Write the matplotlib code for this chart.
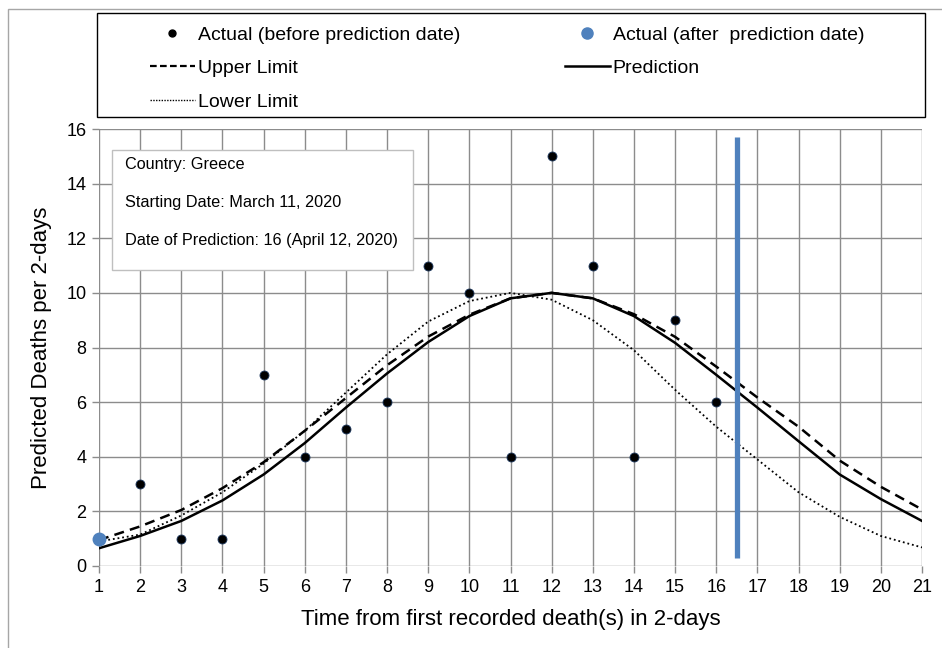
import matplotlib
matplotlib.use("Agg")
import matplotlib.pyplot as plt
from matplotlib.patches import Rectangle
from matplotlib.lines import Line2D

plt.rcParams['font.family'] = ['Liberation Sans', 'DejaVu Sans']

# Data
t = list(range(1, 22))
actual_before_x = [2, 3, 4, 5, 6, 7, 8, 9, 10, 11, 12, 13, 14, 15, 16]
actual_before_y = [3, 1, 1, 7, 4, 5, 6, 11, 10, 4, 15, 11, 4, 9, 6]
actual_after_x = [1]
actual_after_y = [1]
prediction = [0.65, 1.1, 1.65, 2.4, 3.35, 4.5, 5.8, 7.05, 8.2, 9.15, 9.8, 10.0,
              9.8, 9.15, 8.17, 7.0, 5.8, 4.57, 3.35, 2.45, 1.65]
upper = [0.95, 1.45, 2.05, 2.85, 3.8, 4.95, 6.15, 7.35, 8.4, 9.2, 9.8, 10.0,
         9.8, 9.22, 8.39, 7.3, 6.17, 5.1, 3.86, 2.9, 2.07]
lower = [0.9, 1.15, 1.85, 2.7, 3.75, 4.95, 6.35, 7.75, 8.95, 9.7, 10.0, 9.75,
         9.0, 7.9, 6.45, 5.1, 3.9, 2.7, 1.8, 1.1, 0.68]
pred_date = 16.5
vline_range = [0.3, 15.7]
xticks = list(range(1, 22))
yticks = list(range(0, 17, 2))
info_lines = ['Country: Greece', 'Starting Date: March 11, 2020',
              'Date of Prediction: 16 (April 12, 2020)']

W, H = 942, 648
fig = plt.figure(figsize=(W / 100, H / 100), dpi=100)


def fx(px):
    return px / W


def fy(py):
    return 1 - py / H


# outer border
fig.patches.append(Rectangle((fx(8), -0.01), 1.0, fy(9) + 0.01, transform=fig.transFigure,
                             fill=False, edgecolor='#a6a6a6', linewidth=1.0, zorder=0))
ax = fig.add_axes([fx(99), fy(566), fx(922) - fx(99), fy(129) - fy(566)])

gridc = '#8c8c8c'
ax.set_xlim(1, 21)
ax.set_ylim(0, 16)
ax.set_xticks(xticks)
ax.set_yticks(yticks)
ax.grid(True, color=gridc, linewidth=1.0)
ax.set_axisbelow(True)
for s in ax.spines.values():
    s.set_visible(False)
ax.tick_params(axis='both', colors=gridc, length=5, width=1.0, labelcolor='black',
               labelsize=13, pad=4)

ax.plot(t, prediction, color='black', linewidth=1.8, linestyle='-', zorder=3)
ax.plot(t, upper, color='black', linewidth=1.8, linestyle=(0, (4, 2.5)), zorder=3)
ax.plot(t, lower, color='black', linewidth=1.3, linestyle=(0, (1, 1.6)), zorder=3)
ax.plot([pred_date, pred_date], vline_range, color='#4f81bd', linewidth=3.8, zorder=4,
        solid_capstyle='butt')
ax.plot(actual_before_x, actual_before_y, linestyle='none', marker='o', markersize=6.5,
        markerfacecolor='black', markeredgecolor='#1f3a60', markeredgewidth=0.6, zorder=5,
        clip_on=False)
ax.plot(actual_after_x, actual_after_y, linestyle='none', marker='o', markersize=9,
        markerfacecolor='#4f81bd', markeredgecolor='#4f81bd', zorder=6, clip_on=False)

ax.set_xlabel('Time from first recorded death(s) in 2-days', fontsize=16, labelpad=10)
ax.set_ylabel('Predicted Deaths per 2-days', fontsize=16, labelpad=10)

# info box
fig.patches.append(Rectangle((fx(112), fy(270)), fx(413) - fx(112), fy(150) - fy(270),
                             transform=fig.transFigure, facecolor='white',
                             edgecolor='#bfbfbf', linewidth=1.0, zorder=5))
for line, ypx in zip(info_lines, [165, 202, 240]):
    fig.text(fx(125), fy(ypx), line, fontsize=11.7, ha='left', va='center', zorder=6)

# legend frame
fig.patches.append(Rectangle((fx(97), fy(117)), fx(925) - fx(97), fy(13) - fy(117),
                             transform=fig.transFigure, fill=False,
                             edgecolor='black', linewidth=1.0, zorder=5))

h_before = Line2D([], [], linestyle='none', marker='o', markersize=5, color='black')
h_after = Line2D([], [], linestyle='none', marker='o', markersize=8, color='#4f81bd')
h_up = Line2D([], [], color='black', linewidth=1.6, linestyle=(0, (3, 1.5)))
h_pred = Line2D([], [], color='black', linewidth=1.8)
h_low = Line2D([], [], color='black', linewidth=1.0, linestyle=(0, (1, 1)))

common = dict(loc='upper left', fontsize=14, frameon=False, handlelength=2.3,
              handletextpad=0.15, borderaxespad=0, borderpad=0, labelspacing=0.82)
leg1 = fig.legend([h_before, h_up, h_low],
                  ['Actual (before prediction date)', 'Upper Limit', 'Lower Limit'],
                  bbox_to_anchor=(fx(150), fy(26)), **common)
leg2 = fig.legend([h_after, h_pred],
                  ['Actual (after  prediction date)', 'Prediction'],
                  bbox_to_anchor=(fx(565), fy(26)), **common)

fig.savefig('out.png', dpi=100)
